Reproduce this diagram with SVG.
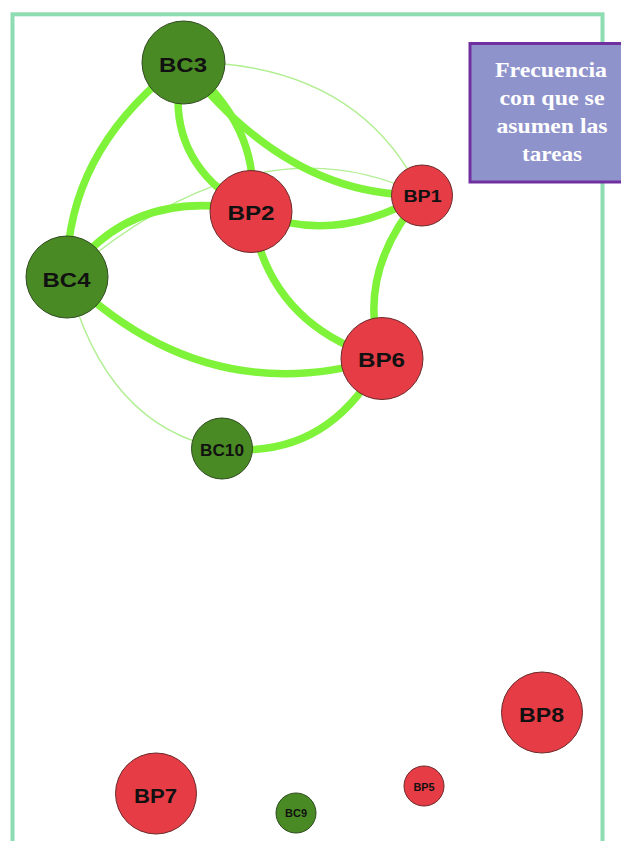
<svg xmlns="http://www.w3.org/2000/svg" width="621" height="841" viewBox="0 0 621 841">
<style>
.e{fill:none;stroke:#7ff23a;stroke-width:7.5;stroke-linecap:round}
.t{fill:none;stroke:#b2ef94;stroke-width:1.4}
.g{fill:#4a8a24;stroke:#2f4a20;stroke-width:1}
.r{fill:#e63c45;stroke:#6a2a2a;stroke-width:1}
.l{font-family:"Liberation Sans",Arial,sans-serif;font-weight:bold;fill:#111;text-anchor:middle}
.b{font-family:"Liberation Serif","Times New Roman",serif;font-weight:bold;fill:#fff;text-anchor:middle;font-size:22px}
</style>
<rect width="621" height="841" fill="#fff"/>
<rect x="12.5" y="14.3" width="590" height="860" fill="none" stroke="#8edcb2" stroke-width="4"/>
<g id="connectors">
<path class="t" d="M183,62 Q357.5,61.5 422,195"/>
<path class="t" d="M67,277 Q255.5,114 422,195"/>
<path class="t" d="M67,277 Q105.5,427 222,448.5"/>
<path class="e" d="M183,62 Q65,150.5 67,277"/>
<path class="e" d="M183,62 Q159,159.5 251,211"/>
<path class="e" d="M183,62 Q263,127.5 251,211"/>
<path class="e" d="M183,62 Q287.5,197.5 422,195"/>
<path class="e" d="M251,211 Q333.5,247 422,195"/>
<path class="e" d="M67,277 Q131,186 251,211"/>
<path class="e" d="M67,277 Q205.5,412 382,358.5"/>
<path class="e" d="M251,211 Q267.5,325 382,358.5"/>
<path class="e" d="M422,195 Q354,273 382,358.5"/>
<path class="e" d="M382,358.5 Q328,460.5 222,448.5"/>
</g>
<g id="BC3"><circle class="g" cx="183.5" cy="62.5" r="41.5"/><text class="l" x="183" y="72" font-size="21" textLength="48" lengthAdjust="spacingAndGlyphs">BC3</text></g>
<g id="BP1"><circle class="r" cx="422" cy="195.5" r="30.5"/><text class="l" x="422.5" y="201.5" font-size="16" textLength="38" lengthAdjust="spacingAndGlyphs">BP1</text></g>
<g id="BP2"><circle class="r" cx="251" cy="211.5" r="41"/><text class="l" x="251" y="220" font-size="21" textLength="47" lengthAdjust="spacingAndGlyphs">BP2</text></g>
<g id="BC4"><circle class="g" cx="67" cy="277" r="41"/><text class="l" x="66.5" y="286.5" font-size="21" textLength="48" lengthAdjust="spacingAndGlyphs">BC4</text></g>
<g id="BP6"><circle class="r" cx="382" cy="358.5" r="41"/><text class="l" x="381.5" y="366.5" font-size="21" textLength="47" lengthAdjust="spacingAndGlyphs">BP6</text></g>
<g id="BC10"><circle class="g" cx="222" cy="448.5" r="30.5"/><text class="l" x="222" y="456" font-size="16" textLength="44" lengthAdjust="spacingAndGlyphs">BC10</text></g>
<g id="BP8"><circle class="r" cx="542" cy="712.5" r="40.5"/><text class="l" x="541.5" y="721.5" font-size="21" textLength="45" lengthAdjust="spacingAndGlyphs">BP8</text></g>
<g id="BP7"><circle class="r" cx="156" cy="793.5" r="40.5"/><text class="l" x="155.5" y="803" font-size="21" textLength="43" lengthAdjust="spacingAndGlyphs">BP7</text></g>
<g id="BC9"><circle class="g" cx="296" cy="813" r="20"/><text class="l" x="296" y="817" font-size="10.5" textLength="22" lengthAdjust="spacingAndGlyphs">BC9</text></g>
<g id="BP5"><circle class="r" cx="424" cy="786" r="20"/><text class="l" x="424" y="790.5" font-size="10" textLength="21" lengthAdjust="spacingAndGlyphs">BP5</text></g>
<g id="legend">
<rect x="470" y="43.5" width="160" height="138.5" fill="#8f93cc" stroke="#7030a0" stroke-width="3"/>
<text class="b" x="551" y="77" textLength="112" lengthAdjust="spacingAndGlyphs">Frecuencia</text>
<text class="b" x="552" y="105" textLength="105" lengthAdjust="spacingAndGlyphs">con que se</text>
<text class="b" x="552" y="133" textLength="111" lengthAdjust="spacingAndGlyphs">asumen las</text>
<text class="b" x="552" y="161" textLength="60" lengthAdjust="spacingAndGlyphs">tareas</text>
</g>
</svg>
